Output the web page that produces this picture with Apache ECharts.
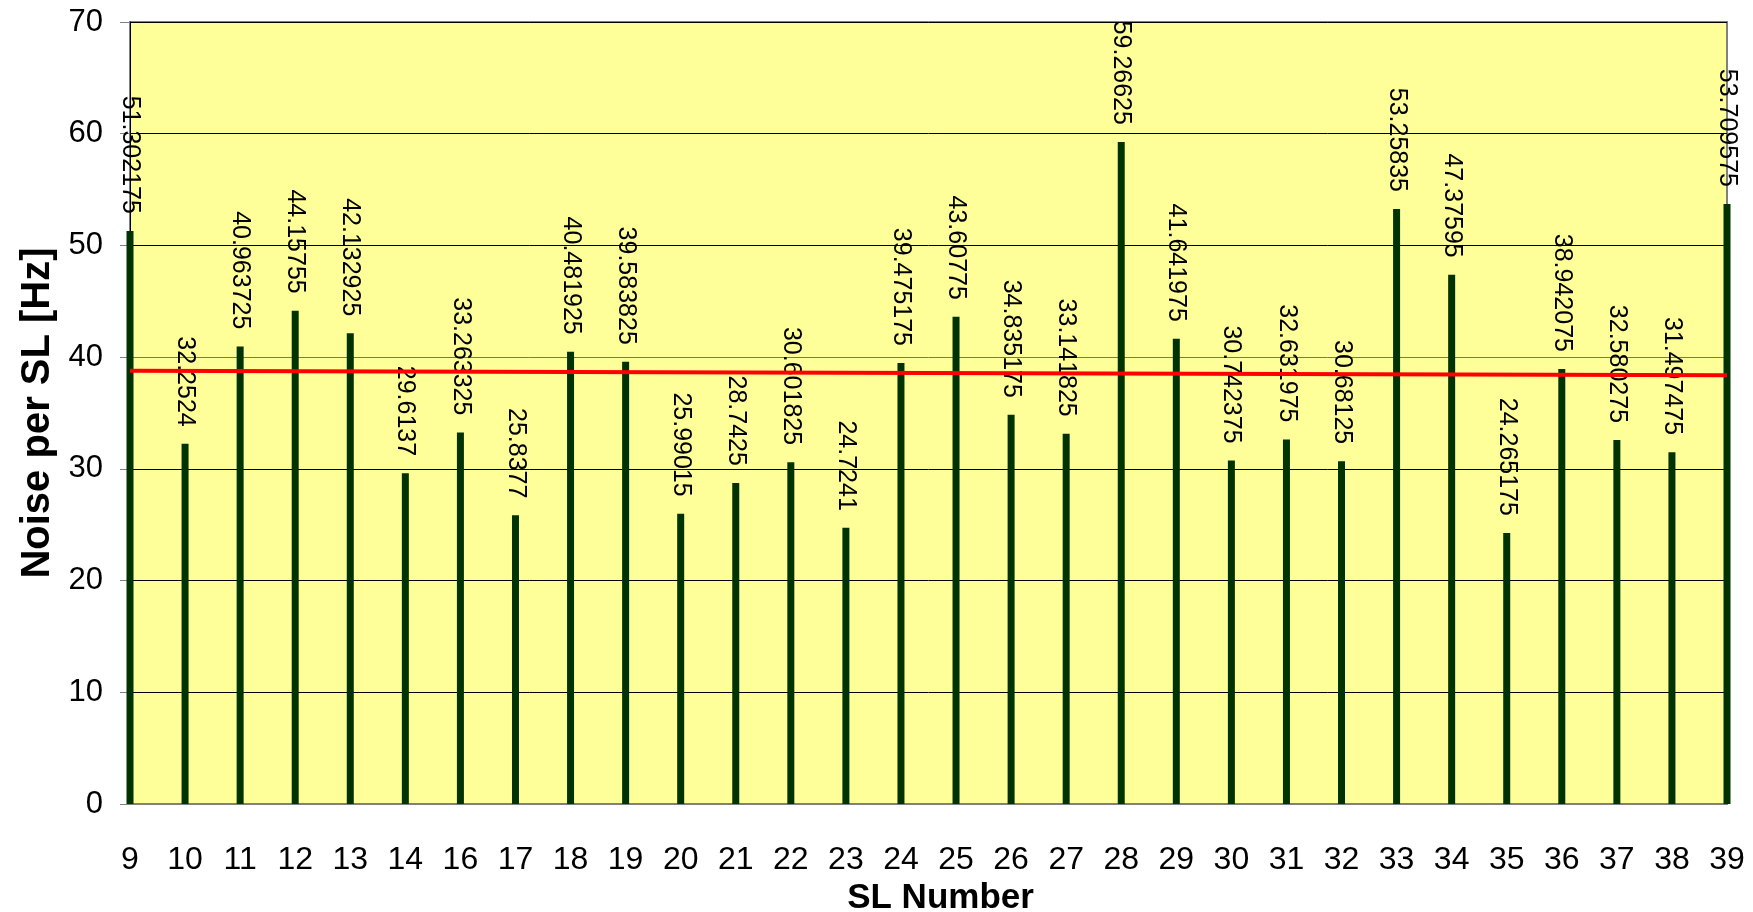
<!DOCTYPE html>
<html>
<head>
<meta charset="utf-8">
<title>Noise per SL</title>
<script src="https://cdn.jsdelivr.net/npm/echarts@6/dist/echarts.min.js"></script>
<style>
  html, body { margin: 0; padding: 0; background: #ffffff; }
  #chart { width: 1753px; height: 912px; }
</style>
</head>
<body>
<div id="chart"></div>
<script>
// SL numbers along the x axis (no SL 15)
const slNumbers = ['9','10','11','12','13','14','16','17','18','19','20','21','22','23','24',
                   '25','26','27','28','29','30','31','32','33','34','35','36','37','38','39'];

// Noise per SL in Hz
const noiseHz = [51.302175, 32.2524, 40.963725, 44.15755, 42.132925, 29.6137, 33.263325,
                 25.8377, 40.481925, 39.583825, 25.99015, 28.7425, 30.601825, 24.7241,
                 39.475175, 43.60775, 34.835175, 33.141825, 59.26625, 41.641975, 30.742375,
                 32.631975, 30.68125, 53.25835, 47.37595, 24.265175, 38.942075, 32.580275,
                 31.497475, 53.709575];

// Reference line: value at the first and at the last SL
const refLineStart = 38.78;
const refLineEnd = 38.39;

// Value axis ticks
const yTicks = [0, 10, 20, 30, 40, 50, 60, 70];

const SANS = '"Liberation Sans", Arial, sans-serif';

const refLine = slNumbers.map((_, i) =>
  i === 0 ? refLineStart : (i === slNumbers.length - 1 ? refLineEnd : null));

const chart = echarts.init(document.getElementById('chart'), null, { renderer: 'canvas' });

chart.setOption({
  animation: false,
  backgroundColor: '#ffffff',
  grid: {
    left: 130, right: 26, top: 22, bottom: 108,
    outerBoundsMode: 'none',
    containLabel: false,
    show: true,
    backgroundColor: '#FFFF99',
    borderColor: '#808080',
    borderWidth: 2
  },
  xAxis: {
    type: 'category',
    data: slNumbers,
    boundaryGap: false,
    name: 'SL Number',
    nameLocation: 'middle',
    nameGap: 66,
    nameTextStyle: {
      fontFamily: SANS,
      fontWeight: 'bold',
      fontSize: 35,
      color: '#000000',
      padding: [0, 0, 0, 24]
    },
    axisLine: { show: true, lineStyle: { color: '#808080', width: 2 } },
    axisTick: { show: false },
    splitLine: { show: false },
    axisLabel: {
      interval: 0,
      margin: 40,
      fontFamily: SANS,
      fontSize: 32,
      color: '#000000'
    }
  },
  yAxis: {
    type: 'value',
    min: yTicks[0],
    max: yTicks[yTicks.length - 1],
    interval: yTicks[1] - yTicks[0],
    name: 'Noise per SL [Hz]',
    nameLocation: 'middle',
    nameGap: 72,
    nameTextStyle: {
      fontFamily: SANS,
      fontWeight: 'bold',
      fontSize: 40,
      color: '#000000'
    },
    axisLine: { show: true, lineStyle: { color: '#000000', width: 1 } },
    axisTick: { show: true, inside: false, length: 10, lineStyle: { color: '#808080', width: 1 } },
    axisLabel: {
      margin: 27,
      fontFamily: SANS,
      fontSize: 31,
      color: '#000000'
    },
    splitLine: {
      show: true,
      lineStyle: {
        color: ['#000000', '#000000', '#000000', '#000000', '#777777', '#000000', '#000000', '#000000'],
        width: 1
      }
    }
  },
  series: [
    {
      name: 'Noise per SL',
      type: 'bar',
      data: noiseHz,
      barWidth: 7,
      itemStyle: { color: '#003300' },
      label: {
        show: true,
        position: 'top',
        distance: 17,
        rotate: -90,
        align: 'right',
        verticalAlign: 'middle',
        fontFamily: SANS,
        fontSize: 25,
        color: '#000000',
        formatter: p => String(p.value)
      },
      z: 2
    },
    {
      name: 'Reference',
      type: 'line',
      data: refLine,
      connectNulls: true,
      showSymbol: false,
      symbol: 'none',
      lineStyle: { color: '#FF0000', width: 4 },
      z: 3
    }
  ]
});
</script>
</body>
</html>
